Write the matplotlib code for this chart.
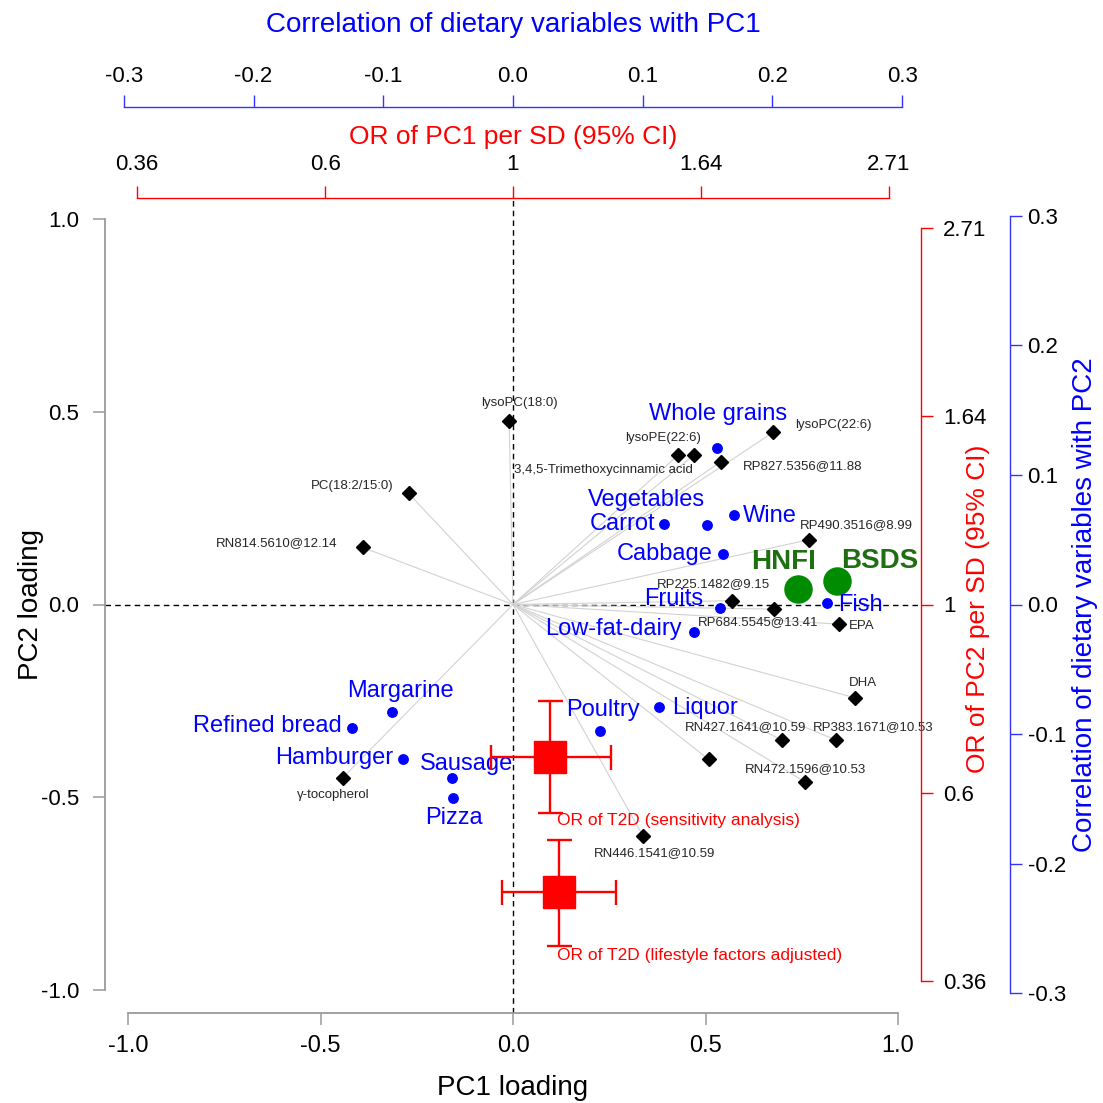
import numpy as np
import matplotlib
matplotlib.use("Agg")
import matplotlib.pyplot as plt
from matplotlib.ticker import NullLocator

plt.rcParams['font.family'] = ['Liberation Sans', 'DejaVu Sans']

# ---------------- data ----------------
metab_names = ["lysoPC(18:0)", "lysoPE(22:6)", "3,4,5-Trimethoxycinnamic acid", "lysoPC(22:6)",
               "RP827.5356@11.88", "PC(18:2/15:0)", "RN814.5610@12.14", "RP490.3516@8.99",
               "RP225.1482@9.15", "RP684.5545@13.41", "EPA", "DHA", "RN427.1641@10.59",
               "RP383.1671@10.53", "", "RN472.1596@10.53", "RN446.1541@10.59", "γ-tocopherol"]
metab_pc1 = [-0.010, 0.429, 0.470, 0.676, 0.539, -0.271, -0.390, 0.768, 0.569, 0.678,
             0.848, 0.888, 0.699, 0.839, 0.508, 0.758, 0.338, -0.442]
metab_pc2 = [0.477, 0.388, 0.388, 0.447, 0.370, 0.288, 0.148, 0.168, 0.010, -0.012,
             -0.051, -0.242, -0.352, -0.352, -0.402, -0.460, -0.601, -0.449]

food_names = ["Whole grains", "Vegetables", "Carrot", "Wine", "Cabbage", "Fruits", "Fish",
              "Low-fat-dairy", "Liquor", "Poultry", "Margarine", "Refined bread", "Hamburger",
              "Sausage", "Pizza"]
food_pc1 = [0.529, 0.503, 0.391, 0.574, 0.545, 0.538, 0.815, 0.470, 0.380, 0.226,
            -0.314, -0.418, -0.285, -0.159, -0.157]
food_pc2 = [0.405, 0.207, 0.209, 0.231, 0.131, -0.009, 0.003, -0.072, -0.265, -0.327,
            -0.278, -0.321, -0.401, -0.451, -0.503]

score_names = ["HNFI", "BSDS"]
score_pc1 = [0.741, 0.841]
score_pc2 = [0.041, 0.061]

or_labels = ["OR of T2D (sensitivity analysis)", "OR of T2D (lifestyle factors adjusted)"]
or_pc1 = [1.104, 1.130]
or_pc1_lo = [0.943, 0.971]
or_pc1_hi = [1.298, 1.315]
or_pc2 = [0.667, 0.466]
or_pc2_lo = [0.575, 0.403]
or_pc2_hi = [0.774, 0.535]

loading_ticks = [-1.0, -0.5, 0.0, 0.5, 1.0]
corr_ticks = [-0.3, -0.2, -0.1, 0.0, 0.1, 0.2, 0.3]
or_tick_labels = ["0.36", "0.6", "1", "1.64", "2.71"]
or_tick_logs = [-1.0, -0.5, 0.0, 0.5, 1.0]

# ---------------- label placement (pixel offsets, ha) ----------------
metab_off = [(10, 18, 'center'), (-15, 17, 'center'), (-91, -15, 'center'), (60, 7, 'center'),
             (82, -4, 'center'), (-56, 7, 'center'), (-86, 4, 'center'), (48, 15, 'center'),
             (-19, 17, 'center'), (-16, -13, 'center'), (22, -2, 'center'), (8, 15, 'center'),
             (-37, 13, 'center'), (37, 13, 'center'), (0, 0, 'center'), (1, 13, 'center'),
             (11, -17, 'center'), (-10, -17, 'center')]
food_off = [(1, 34, 'center'), (-60, 25, 'center'), (-8, 0, 'right'), (9, -1, 'left'),
            (-10, 0, 'right'), (-17, 9, 'right'), (11, -2, 'left'), (-12, 3, 'right'),
            (13, -1, 'left'), (3, 21, 'center'), (8, 21, 'center'), (-10, 2, 'right'),
            (-10, 1, 'right'), (15, 14, 'center'), (1, -20, 'center')]
score_off = [(-15, 27, 'center'), (43, 20, 'center')]
or_off = [(128, -64), (141, -64)]

PX = 0.72  # points per pixel at dpi 100

# ---------------- figure ----------------
W = H = 1103
fig = plt.figure(figsize=(W / 100, H / 100), dpi=100)
Lp, Rp, Tp, Bp = 104.9, 921.1, 195.9, 1013.1
rect = [Lp / W, 1 - Bp / H, (Rp - Lp) / W, (Bp - Tp) / H]


def axx(px):
    return (px - Lp) / (Rp - Lp)


def axy(py):
    return (Bp - py) / (Bp - Tp)


LIM = 1.06
KOR = 0.976
KCX = 3.37
KCY = 3.36

ax = fig.add_axes(rect)
ax.set_xlim(-LIM, LIM)
ax.set_ylim(-LIM, LIM)
for s in ['top', 'right']:
    ax.spines[s].set_visible(False)
for s in ['left', 'bottom']:
    ax.spines[s].set_bounds(-1, 1)
    ax.spines[s].set_color('#9a9a9a')
    ax.spines[s].set_linewidth(1.3)
ax.set_xticks(loading_ticks)
ax.set_xticklabels([f"{v:.1f}" for v in loading_ticks])
ax.set_yticks(loading_ticks)
ax.set_yticklabels([f"{v:.1f}" for v in loading_ticks])
ax.tick_params(axis='x', direction='out', length=8.6, width=1.1, color='#9a9a9a',
               labelsize=17, pad=7)
ax.tick_params(axis='y', direction='out', length=8.6, width=1.1, color='#9a9a9a',
               labelsize=16, pad=10)
ax.set_xlabel("PC1 loading", fontsize=20)
ax.xaxis.set_label_coords(axx(513), axy(1088))
ax.xaxis.label.set_va('center')
ax.set_ylabel("PC2 loading", fontsize=20)
ax.yaxis.set_label_coords(axx(31), axy(605))
ax.yaxis.label.set_va('center')

# reference lines
ax.axhline(0, color='black', lw=1.0, ls=(0, (4, 3)), zorder=1)
ax.axvline(0, color='black', lw=1.0, ls=(0, (4, 3)), zorder=1)

# arrows from origin to metabolites
for x, y in zip(metab_pc1, metab_pc2):
    ax.plot([0, x], [0, y], color='#d2d2d2', lw=0.8, zorder=1.5)

ax.plot(metab_pc1, metab_pc2, 'D', color='black', ms=7, zorder=3)
for name, x, y, (dx, dy, ha) in zip(metab_names, metab_pc1, metab_pc2, metab_off):
    if name:
        ax.annotate(name, (x, y), xytext=(dx * PX, dy * PX), textcoords='offset points',
                    ha=ha, va='center', fontsize=9.5, color='#262626', zorder=4)

ax.plot(food_pc1, food_pc2, 'o', color='#0000ff', ms=6.8, zorder=3)
for name, x, y, (dx, dy, ha) in zip(food_names, food_pc1, food_pc2, food_off):
    ax.annotate(name, (x, y), xytext=(dx * PX, dy * PX), textcoords='offset points',
                ha=ha, va='center', fontsize=17, color='#0000ff', zorder=4)

ax.plot(score_pc1, score_pc2, 'o', color='#008b00', ms=19.5, zorder=3)
for name, x, y, (dx, dy, ha) in zip(score_names, score_pc1, score_pc2, score_off):
    ax.annotate(name, (x, y), xytext=(dx * PX, dy * PX), textcoords='offset points',
                ha=ha, va='center', fontsize=20, fontweight='bold', color='#1f6e12', zorder=4)

# ---------------- OR axes (red, log scale) ----------------
axo = fig.add_axes(rect, label='or')
axo.patch.set_visible(False)
axo.set_xscale('log')
axo.set_yscale('log')
axo.set_xlim(np.exp(-LIM / KOR), np.exp(LIM / KOR))
axo.set_ylim(np.exp(-LIM / KOR), np.exp(LIM / KOR))
for s in ['bottom', 'left']:
    axo.spines[s].set_visible(False)
axo.spines['top'].set_bounds(np.exp(-1), np.exp(1))
axo.spines['right'].set_bounds(np.exp(-1), np.exp(1))
for s in ['top', 'right']:
    axo.spines[s].set_color('red')
    axo.spines[s].set_linewidth(1.0)
axo.spines['top'].set_position(('outward', -1.5))
axo.xaxis.tick_top()
axo.yaxis.tick_right()
or_ticks = np.exp(or_tick_logs)
axo.set_xticks(or_ticks)
axo.set_xticklabels(or_tick_labels)
axo.set_yticks(or_ticks)
axo.set_yticklabels(or_tick_labels)
axo.xaxis.set_minor_locator(NullLocator())
axo.yaxis.set_minor_locator(NullLocator())
axo.tick_params(axis='x', direction='out', length=8.6, width=1.0, color='red',
                labelsize=16, pad=8)
axo.tick_params(axis='y', direction='out', length=8.6, width=1.0, color='red',
                labelsize=16, pad=7)
axo.xaxis.set_label_position('top')
axo.set_xlabel("OR of PC1 per SD (95% CI)", fontsize=19, color='red')
axo.xaxis.set_label_coords(axx(513), axy(137))
axo.xaxis.label.set_va('center')
axo.yaxis.set_label_position('right')
axo.set_ylabel("OR of PC2 per SD (95% CI)", fontsize=19, color='red')
axo.yaxis.set_label_coords(axx(978), axy(609))
axo.yaxis.label.set_va('center')

for i in range(len(or_labels)):
    axo.errorbar([or_pc1[i]], [or_pc2[i]],
                 xerr=[[or_pc1[i] - or_pc1_lo[i]], [or_pc1_hi[i] - or_pc1[i]]],
                 yerr=[[or_pc2[i] - or_pc2_lo[i]], [or_pc2_hi[i] - or_pc2[i]]],
                 fmt='s', color='red', ms=23.5, elinewidth=1.7, capsize=9, capthick=1.7,
                 zorder=5)
    dx, dy = or_off[i]
    axo.annotate(or_labels[i], (or_pc1[i], or_pc2[i]), xytext=(dx * PX, dy * PX),
                 textcoords='offset points', ha='center', va='center', fontsize=12.5,
                 color='red', zorder=6)

# ---------------- correlation axes (blue) ----------------
axc = fig.add_axes(rect, label='corr')
axc.patch.set_visible(False)
axc.set_xlim(-LIM / KCX, LIM / KCX)
axc.set_ylim(-LIM / KCY, LIM / KCY)
for s in ['bottom', 'left']:
    axc.spines[s].set_visible(False)
axc.spines['top'].set_bounds(-0.3, 0.3)
axc.spines['right'].set_bounds(-0.3, 0.3)
for s in ['top', 'right']:
    axc.spines[s].set_color('#3333ff')
    axc.spines[s].set_linewidth(1.0)
axc.spines['top'].set_position(('outward', 89 * PX))
axc.spines['right'].set_position(('outward', 89 * PX))
axc.xaxis.tick_top()
axc.yaxis.tick_right()
axc.set_xticks(corr_ticks)
axc.set_xticklabels([f"{v:.1f}" for v in corr_ticks])
axc.set_yticks(corr_ticks)
axc.set_yticklabels([f"{v:.1f}" for v in corr_ticks])
axc.tick_params(axis='x', direction='out', length=8.6, width=1.0, color='#3333ff',
                labelsize=16, pad=6)
axc.tick_params(axis='y', direction='out', length=8.6, width=1.0, color='#3333ff',
                labelsize=16, pad=4)
axc.xaxis.set_label_position('top')
axc.set_xlabel("Correlation of dietary variables with PC1", fontsize=20, color='#0000ff')
axc.xaxis.set_label_coords(axx(513), axy(25))
axc.xaxis.label.set_va('center')
axc.yaxis.set_label_position('right')
axc.set_ylabel("Correlation of dietary variables with PC2", fontsize=20, color='#0000ff')
axc.yaxis.set_label_coords(axx(1085), axy(605))
axc.yaxis.label.set_va('center')

fig.savefig("out.png", dpi=100, facecolor='white')
